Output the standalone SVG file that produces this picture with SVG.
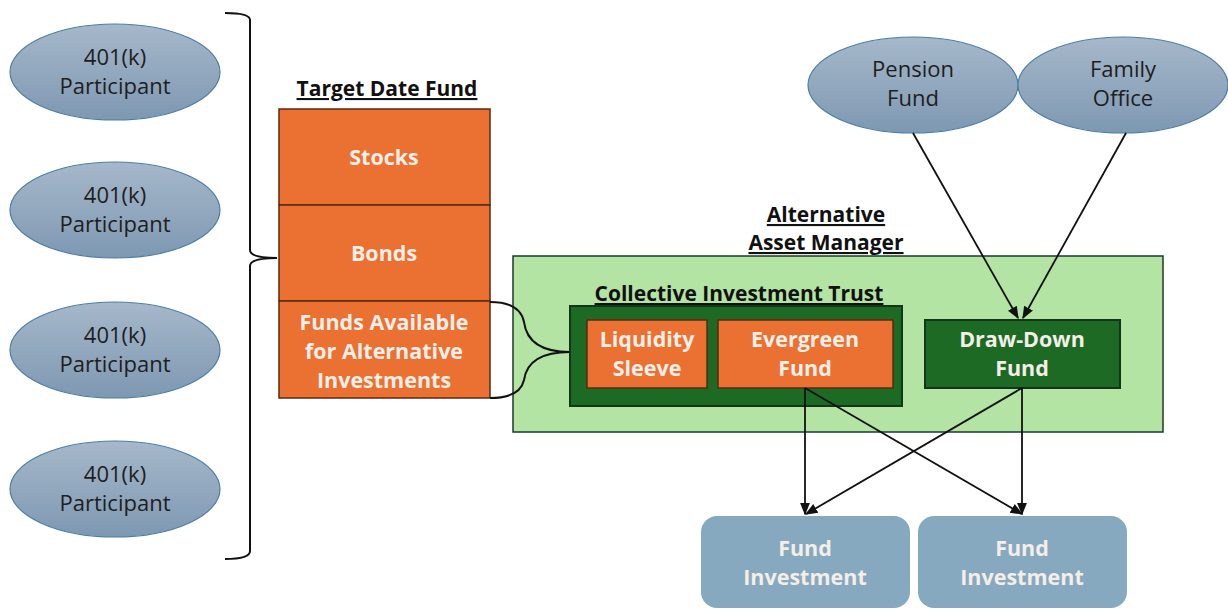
<svg xmlns="http://www.w3.org/2000/svg" width="1228" height="610" viewBox="0 0 1228 610">
  <defs>
    <linearGradient id="ovalFill" x1="0" y1="0" x2="0" y2="1">
      <stop offset="0" stop-color="#a6b8ca"/>
      <stop offset="1" stop-color="#7e98b2"/>
    </linearGradient>
    <marker id="arrow" viewBox="0 0 10 10" refX="9" refY="5" markerWidth="7" markerHeight="7" orient="auto-start-reverse">
      <path d="M0,1 L10,5 L0,9 z" fill="#111"/>
    </marker>
  </defs>
  <style>
    .oval { fill: url(#ovalFill); stroke: #4b7ea6; stroke-width: 1.2; }
    .ovalText { font-family: "Open Sans", "Noto Sans", sans-serif; font-size: 22px; fill: #1e1e1e; text-anchor: middle; }
    .orange { fill: #eb7132; stroke: #5b2a12; stroke-width: 1.5; }
    .dark { fill: #1c6a24; stroke: #14351a; stroke-width: 2; }
    .boxText { font-family: "Open Sans", "Noto Sans", sans-serif; font-weight: bold; font-size: 21.5px; fill: #f3eee8; text-anchor: middle; }
    .title { font-family: "Open Sans", "Noto Sans", sans-serif; font-weight: bold; font-size: 21px; fill: #111; text-anchor: middle; text-decoration: underline; }
    .blue { fill: #87a9bf; }
    .line { fill: none; stroke: #111; stroke-width: 1.8; }
    .brace { fill: none; stroke: #111; stroke-width: 2; }
  </style>

  <!-- 401(k) participants -->
  <g id="participant1">
    <ellipse class="oval" cx="115" cy="72" rx="105" ry="48"/>
    <text class="ovalText" x="115" y="65">401(k)</text>
    <text class="ovalText" x="115" y="94">Participant</text>
  </g>
  <g id="participant2">
    <ellipse class="oval" cx="115" cy="210" rx="105" ry="48"/>
    <text class="ovalText" x="115" y="203">401(k)</text>
    <text class="ovalText" x="115" y="232">Participant</text>
  </g>
  <g id="participant3">
    <ellipse class="oval" cx="115" cy="350" rx="105" ry="48"/>
    <text class="ovalText" x="115" y="343">401(k)</text>
    <text class="ovalText" x="115" y="372">Participant</text>
  </g>
  <g id="participant4">
    <ellipse class="oval" cx="115" cy="489" rx="105" ry="48"/>
    <text class="ovalText" x="115" y="482">401(k)</text>
    <text class="ovalText" x="115" y="511">Participant</text>
  </g>

  <!-- brace gathering the participants -->
  <path id="participantBrace" class="brace" d="M225,13 Q250,13 250,20 L250,250 Q250,258 277,258 Q250,258 250,266 L250,551 Q250,559 225,559"/>

  <!-- target date fund -->
  <g id="targetDateFund">
    <text class="title" x="387" y="96">Target Date Fund</text>
    <rect class="orange" x="279" y="109" width="211" height="96"/>
    <text class="boxText" x="384" y="165">Stocks</text>
    <rect class="orange" x="279" y="205" width="211" height="96"/>
    <text class="boxText" x="384" y="261">Bonds</text>
    <rect class="orange" x="279" y="301" width="211" height="97"/>
    <text class="boxText" x="384" y="330">Funds Available</text>
    <text class="boxText" x="384" y="359">for Alternative</text>
    <text class="boxText" x="384" y="388">Investments</text>
  </g>

  <!-- alternative asset manager -->
  <g id="assetManager">
    <text class="title" x="826" y="222">Alternative</text>
    <text class="title" x="826" y="250">Asset Manager</text>
    <rect x="513" y="256" width="650" height="176" fill="#b3e4a3" stroke="#1d3a28" stroke-width="1.5"/>
  </g>

  <!-- brace from funds for alternatives into the trust -->
  <path id="fundsBrace" class="brace" d="M490,302 Q520,302 524,322 Q528,352 570,352 Q528,352 524,380 Q520,398 490,398"/>

  <g id="cit">
    <text class="title" x="739" y="301">Collective Investment Trust</text>
    <rect class="dark" x="570" y="306" width="332" height="100"/>
  </g>
  <g id="liquiditySleeve">
    <rect class="orange" x="587" y="320" width="120" height="68"/>
    <text class="boxText" x="647" y="347">Liquidity</text>
    <text class="boxText" x="647" y="376">Sleeve</text>
  </g>
  <g id="evergreenFund">
    <rect class="orange" x="718" y="320" width="175" height="68"/>
    <text class="boxText" x="805" y="347">Evergreen</text>
    <text class="boxText" x="805" y="376">Fund</text>
  </g>
  <g id="drawDownFund">
    <rect class="dark" x="925" y="320" width="195" height="68"/>
    <text class="boxText" x="1022" y="347">Draw-Down</text>
    <text class="boxText" x="1022" y="376">Fund</text>
  </g>

  <!-- institutional investors -->
  <g id="pensionFund">
    <ellipse class="oval" cx="913" cy="85" rx="105" ry="48"/>
    <text class="ovalText" x="913" y="77">Pension</text>
    <text class="ovalText" x="913" y="106">Fund</text>
  </g>
  <g id="familyOffice">
    <ellipse class="oval" cx="1123" cy="85" rx="105" ry="48"/>
    <text class="ovalText" x="1123" y="77">Family</text>
    <text class="ovalText" x="1123" y="106">Office</text>
  </g>

  <!-- fund investments -->
  <g id="fundInvestment1">
    <rect class="blue" x="701" y="516" width="209" height="92" rx="16"/>
    <text class="boxText" x="805" y="556">Fund</text>
    <text class="boxText" x="805" y="585">Investment</text>
  </g>
  <g id="fundInvestment2">
    <rect class="blue" x="918" y="516" width="209" height="92" rx="16"/>
    <text class="boxText" x="1022" y="556">Fund</text>
    <text class="boxText" x="1022" y="585">Investment</text>
  </g>

  <!-- connectors -->
  <g id="connectors">
    <line class="line" x1="913" y1="133" x2="1018" y2="318" marker-end="url(#arrow)"/>
    <line class="line" x1="1126" y1="133" x2="1023" y2="318" marker-end="url(#arrow)"/>
    <line class="line" x1="805" y1="388" x2="805" y2="514" marker-end="url(#arrow)"/>
    <line class="line" x1="805" y1="388" x2="1022" y2="514" marker-end="url(#arrow)"/>
    <line class="line" x1="1022" y1="388" x2="1022" y2="514" marker-end="url(#arrow)"/>
    <line class="line" x1="1022" y1="388" x2="806" y2="514" marker-end="url(#arrow)"/>
  </g>
</svg>
